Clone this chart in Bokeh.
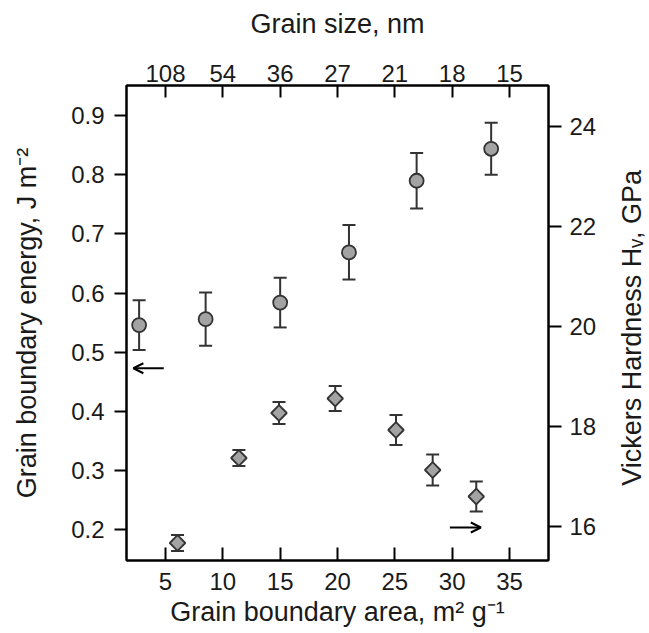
from bokeh.plotting import figure
from bokeh.layouts import row
from bokeh.models import (Range1d, LinearAxis, FixedTicker, Whisker, TeeHead, Label,
                          ColumnDataSource, Arrow, OpenHead, PrintfTickFormatter)
from bokeh.embed import file_html
from bokeh.resources import INLINE
import numpy as np

# ---- data ----
area_E = [2.7, 8.5, 15.0, 21.0, 26.9, 33.4]
energy = [0.546, 0.556, 0.584, 0.669, 0.790, 0.844]
energy_err = [0.042, 0.045, 0.042, 0.046, 0.047, 0.044]

area_H = [6.05, 11.4, 14.9, 19.8, 25.1, 28.3, 32.1]
hardness = [15.67, 17.37, 18.27, 18.56, 17.93, 17.13, 16.60]
hardness_err = [0.16, 0.16, 0.22, 0.25, 0.30, 0.31, 0.30]

area_ticks = [5, 10, 15, 20, 25, 30, 35]
grain_size_labels = ["108", "54", "36", "27", "21", "18", "15"]
energy_ticks = [0.2, 0.3, 0.4, 0.5, 0.6, 0.7, 0.8, 0.9]
hardness_ticks = [16, 18, 20, 22, 24]

# arrows (x_start, x_end, y)
arrow_left = (4.85, 2.2, 0.473)
arrow_right = (29.8, 32.5, 15.98)

FONT = "Liberation Sans"
TICK_FS = "24px"
LABEL_FS = "27px"
MARK_FILL = "#a3a3a3"
DARK = "#333333"
TXT = "#1a1a1a"

FW, FH = 422, 475
TOP, LEFT, RIGHT = 85, 126, 60
p = figure(frame_width=FW, frame_height=FH, output_backend="svg", toolbar_location=None,
           x_range=Range1d(1.6, 38.4), y_range=Range1d(0.148, 0.951),
           min_border_left=LEFT, min_border_right=RIGHT, min_border_top=TOP,
           min_border_bottom=60, x_axis_location=None, y_axis_location=None)
p.extra_y_ranges = {"hv": Range1d(15.32, 24.82)}
p.xgrid.visible = False
p.ygrid.visible = False
p.outline_line_color = "black"
p.outline_line_width = 2
p.background_fill_color = "white"
p.border_fill_color = "white"


def style(ax, tin, tout, standoff, label_standoff):
    ax.major_tick_in = tin
    ax.major_tick_out = tout
    ax.minor_tick_line_color = None
    ax.major_tick_line_width = 2
    ax.major_tick_line_color = "black"
    ax.axis_line_width = 2
    ax.axis_line_color = "black"
    ax.major_label_text_font = FONT
    ax.major_label_text_font_size = TICK_FS
    ax.major_label_text_color = TXT
    ax.axis_label_text_font = FONT
    ax.axis_label_text_font_size = LABEL_FS
    ax.axis_label_text_font_style = "normal"
    ax.axis_label_text_color = TXT
    ax.major_label_standoff = standoff
    ax.axis_label_standoff = label_standoff


bottom = LinearAxis(ticker=FixedTicker(ticks=area_ticks),
                    axis_label="Grain boundary area, m\u00b2 g\u207b\u00b9")
style(bottom, 13, 0, 12, 4)
p.add_layout(bottom, "below")

top = LinearAxis(ticker=FixedTicker(ticks=area_ticks),
                 major_label_overrides={t: s for t, s in zip(area_ticks, grain_size_labels)},
                 axis_label="Grain size, nm")
style(top, 12, 0, 4, 23)
p.add_layout(top, "above")

left = LinearAxis(ticker=FixedTicker(ticks=energy_ticks),
                  formatter=PrintfTickFormatter(format="%.1f"),
                  axis_label="Grain boundary energy, J m\u207b\u00b2")
style(left, 0, 12, 10, 26)
p.add_layout(left, "left")

right = LinearAxis(y_range_name="hv", ticker=FixedTicker(ticks=hardness_ticks))
style(right, 0, 13, 8, 0)
p.add_layout(right, "right")

# energy series
srcE = ColumnDataSource(dict(x=area_E, y=energy,
                             lo=[v - e for v, e in zip(energy, energy_err)],
                             hi=[v + e for v, e in zip(energy, energy_err)]))
p.add_layout(Whisker(base="x", lower="lo", upper="hi", source=srcE, dimension="height",
                     line_color=DARK, line_width=2,
                     upper_head=TeeHead(size=13, line_color=DARK, line_width=2),
                     lower_head=TeeHead(size=13, line_color=DARK, line_width=2)))
p.scatter("x", "y", source=srcE, marker="circle", size=14, fill_color=MARK_FILL,
          line_color=DARK, line_width=1.8)

# hardness series
srcH = ColumnDataSource(dict(x=area_H, y=hardness,
                             lo=[v - e for v, e in zip(hardness, hardness_err)],
                             hi=[v + e for v, e in zip(hardness, hardness_err)]))
p.add_layout(Whisker(base="x", lower="lo", upper="hi", source=srcH, dimension="height",
                     y_range_name="hv", line_color=DARK, line_width=2,
                     upper_head=TeeHead(size=13, line_color=DARK, line_width=2),
                     lower_head=TeeHead(size=13, line_color=DARK, line_width=2)))
p.scatter("x", "y", source=srcH, y_range_name="hv", marker="square", angle=np.pi / 4,
          size=11, fill_color=MARK_FILL, line_color=DARK, line_width=1.8)

# arrows indicating axes
p.add_layout(Arrow(x_start=arrow_left[0], x_end=arrow_left[1], y_start=arrow_left[2],
                   y_end=arrow_left[2], line_color="black", line_width=2,
                   end=OpenHead(size=10, line_color="black", line_width=2)))
p.add_layout(Arrow(x_start=arrow_right[0], x_end=arrow_right[1], y_start=arrow_right[2],
                   y_end=arrow_right[2], y_range_name="hv", line_color="black", line_width=2,
                   end=OpenHead(size=10, line_color="black", line_width=2)))

# narrow side panel holding the right-hand axis title (reads bottom to top)
SW, SH = 41, 620
side = figure(width=SW, height=SH, output_backend="svg", toolbar_location=None,
              x_range=Range1d(0, SW), y_range=Range1d(0, SH), min_border=0,
              x_axis_location=None, y_axis_location=None)
side.grid.visible = False
side.outline_line_color = None
side.background_fill_color = "white"
side.border_fill_color = "white"
side.add_layout(Label(x=23, y=SH - (TOP + FH / 2), text="Vickers Hardness H\u1d65, GPa",
                      angle=np.pi / 2, text_align="center", text_baseline="middle",
                      text_font=FONT, text_font_size=LABEL_FS, text_color=TXT))

layout = row(p, side, spacing=0)
open("out.html", "w").write(file_html(layout, INLINE))
